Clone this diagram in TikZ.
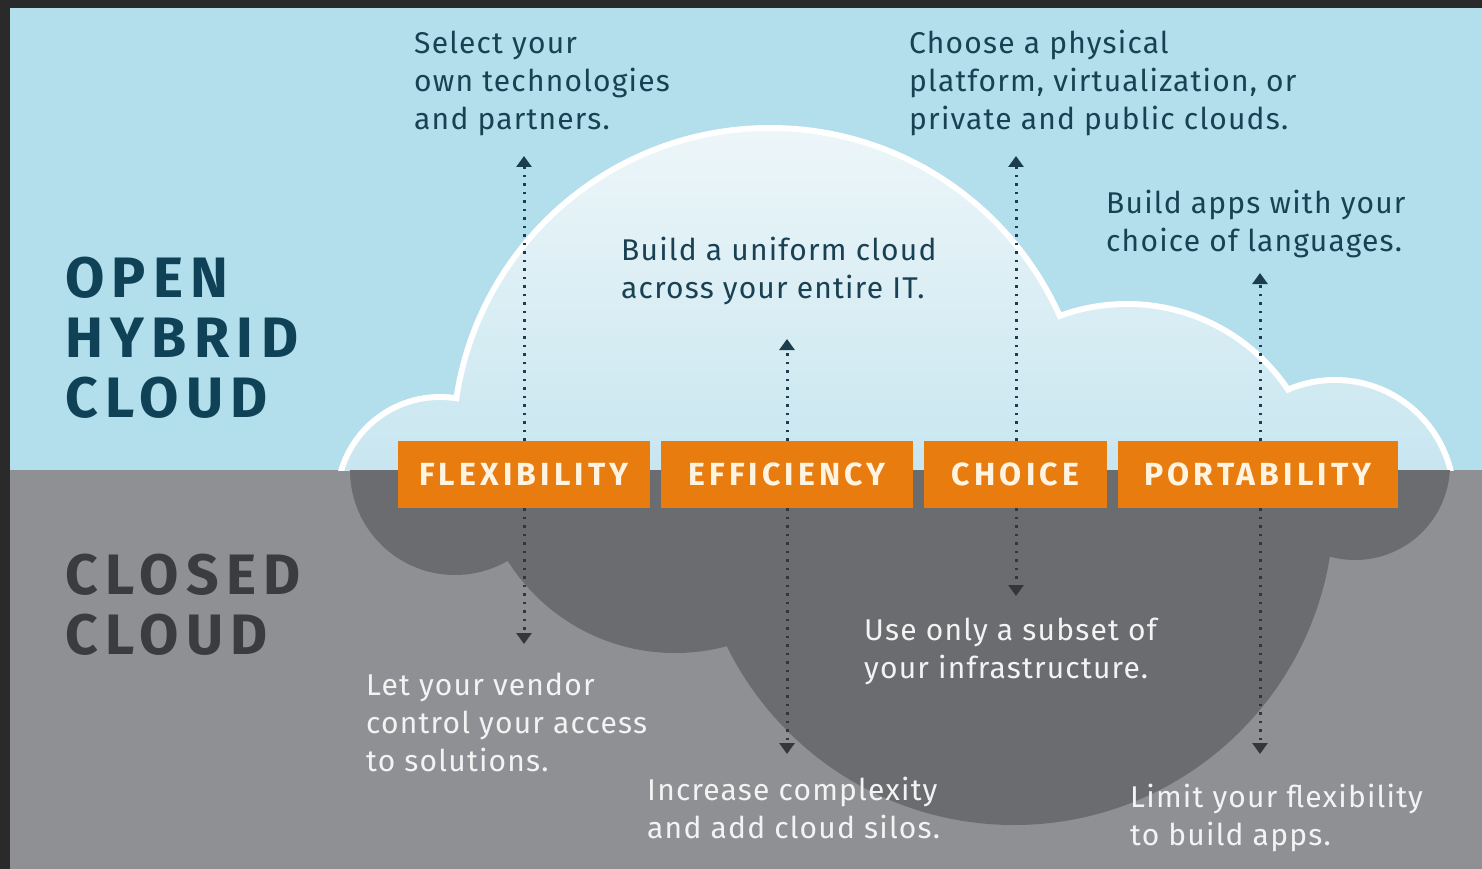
\documentclass[tikz,border=0pt]{standalone}
\usepackage{fontspec}
\setmainfont{Fira Sans}[LetterSpace=4]
\newfontfamily\spacedfont{Fira Sans}[LetterSpace=13]
\newfontfamily\boxfont{Fira Sans}[LetterSpace=13]
\usetikzlibrary{arrows.meta}
\definecolor{bord}{HTML}{2A2A2A}
\definecolor{sky}{HTML}{B3DEEB}
\definecolor{ground}{HTML}{8F9093}
\definecolor{cloudDark}{HTML}{6B6C70}
\definecolor{cloudTop}{HTML}{EDF6F9}
\definecolor{cloudBot}{HTML}{C8E6F0}
\definecolor{orangeBox}{HTML}{E87C0F}
\definecolor{boxText}{HTML}{FFF4E2}
\definecolor{navy}{HTML}{0F4256}
\definecolor{closedText}{HTML}{3B3C40}
\definecolor{upText}{HTML}{1A4153}
\definecolor{downText}{HTML}{F3F3F3}
\definecolor{dotUp}{HTML}{1C3D4D}
\definecolor{dotDown}{HTML}{35363A}
\begin{document}
\begin{tikzpicture}[x=1pt,y=-1pt,
  upTxt/.style={font=\fontsize{30}{38}\selectfont, text=upText, align=left, anchor=base west, inner sep=0pt},
  downTxt/.style={font=\fontsize{30}{38}\selectfont, text=downText, align=left, anchor=base west, inner sep=0pt},
  headTxt/.style={font=\spacedfont\bfseries\fontsize{57}{60}\selectfont, align=left, anchor=base west, inner sep=0pt},
  boxsty/.style={fill=orangeBox, text=boxText, font=\boxfont\bfseries\fontsize{32}{32}\selectfont, minimum height=67pt, inner sep=0pt, anchor=center},
  upArrow/.style={draw=dotUp, line width=3pt, dash pattern=on 2.5pt off 6pt, -{Triangle[width=15pt,length=11pt]}},
  downArrow/.style={draw=dotDown, line width=3pt, dash pattern=on 2.5pt off 6pt, -{Triangle[width=15pt,length=11pt]}}
]
\useasboundingbox (0,0) rectangle (1482,869);
\fill[bord] (0,0) rectangle (1482,869);
\fill[sky] (10,8) rectangle (1482,470);
\fill[ground] (10,470) rectangle (1482,869);

% upper cloud
\begin{scope}
  \clip (10,8) rectangle (1482,470);
  \draw[white, line width=12pt] (440,500) circle[radius=100pt] (770,445) circle[radius=314pt]
     (1127,498) circle[radius=191pt] (1335,499) circle[radius=116pt];
  \begin{scope}
    \clip (440,500) circle[radius=100pt] (770,445) circle[radius=314pt]
      (1127,498) circle[radius=191pt] (1335,499) circle[radius=116pt];
    \shade[top color=cloudTop, bottom color=cloudBot] (10,128) rectangle (1482,470);
  \end{scope}
\end{scope}

% lower cloud
\begin{scope}
  \clip (10,470) rectangle (1482,869);
  \fill[cloudDark] (455,470) circle[radius=105pt] (675,455) circle[radius=198pt]
     (1014,505) circle[radius=320pt] (1355,465) circle[radius=95pt];
\end{scope}

% headings (anchored at the baseline of the last line)
\node[headTxt, text=navy] (open) at (65,417) {OPEN\\HYBRID\\CLOUD};
\node[headTxt, text=closedText] (closed) at (65,654) {CLOSED\\CLOUD};

% boxes
\node[boxsty, minimum width=252pt] (flex) at (524,474.5) {FLEXIBILITY};
\node[boxsty, minimum width=252pt] (eff) at (787,474.5) {EFFICIENCY};
\node[boxsty, minimum width=183pt] (choice) at (1015.5,474.5) {CHOICE};
\node[boxsty, minimum width=280pt] (port) at (1258,474.5) {PORTABILITY};

% texts (anchored at the baseline of the last line)
\node[upTxt] (sel) at (414,130) {Select your\\own technologies\\and partners.};
\node[upTxt] (choose) at (909,130) {Choose a physical\\platform, virtualization, or\\private and public clouds.};
\node[upTxt] (apps) at (1106,251) {Build apps with your\\choice of languages.};
\node[upTxt] (uniform) at (621,298) {Build a uniform cloud\\across your entire IT.};
\node[downTxt] (vendor) at (366,771) {Let your vendor\\control your access\\to solutions.};
\node[downTxt] (complex) at (647,838) {Increase complexity\\and add cloud silos.};
\node[downTxt] (subset) at (864,678) {Use only a subset of\\your infrastructure.};
\node[downTxt] (limit) at (1130,845) {Limit your flexibility\\to build apps.};

% arrow ends
\coordinate (fUp) at (524,156);
\coordinate (eUp) at (787,339);
\coordinate (cUp) at (1016,156);
\coordinate (pUp) at (1260,273);
\coordinate (fDn) at (524,644);
\coordinate (eDn) at (787,754);
\coordinate (cDn) at (1016,596);
\coordinate (pDn) at (1260,754);

\draw[upArrow] (flex.north -| fUp) -- (fUp);
\draw[upArrow] (eff.north -| eUp) -- (eUp);
\draw[upArrow] (choice.north -| cUp) -- (cUp);
\draw[upArrow] (port.north -| pUp) -- (pUp);
\draw[downArrow] (flex.south -| fDn) -- (fDn);
\draw[downArrow] (eff.south -| eDn) -- (eDn);
\draw[downArrow] (choice.south -| cDn) -- (cDn);
\draw[downArrow] (port.south -| pDn) -- (pDn);
\end{tikzpicture}
\end{document}
